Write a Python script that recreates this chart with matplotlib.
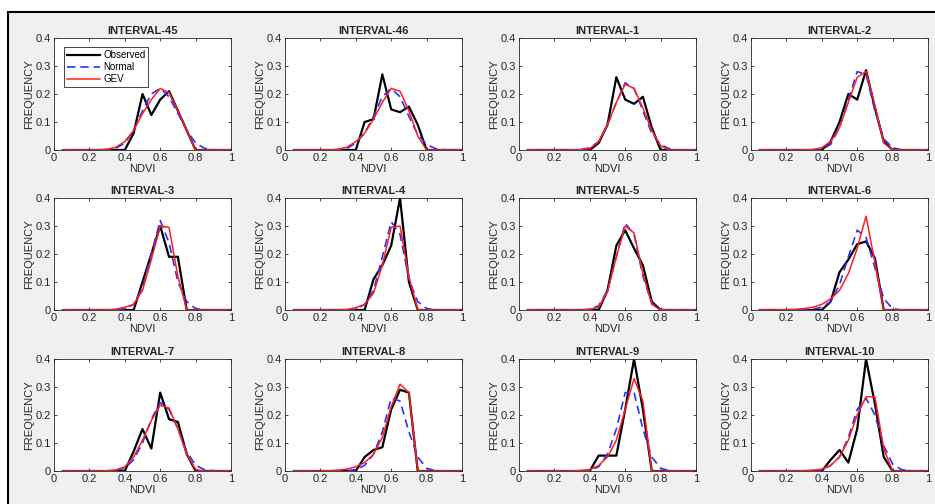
import matplotlib
matplotlib.use('Agg')
import matplotlib.pyplot as plt
from matplotlib.patches import Rectangle

plt.rcParams['font.family'] = ['Liberation Sans', 'DejaVu Sans']

# NDVI bin centres
ndvi = [0.05, 0.10, 0.15, 0.20, 0.25, 0.30, 0.35, 0.40, 0.45, 0.50,
        0.55, 0.60, 0.65, 0.70, 0.75, 0.80, 0.85, 0.90, 0.95, 1.00]

titles = ['INTERVAL-45', 'INTERVAL-46', 'INTERVAL-1', 'INTERVAL-2',
          'INTERVAL-3', 'INTERVAL-4', 'INTERVAL-5', 'INTERVAL-6',
          'INTERVAL-7', 'INTERVAL-8', 'INTERVAL-9', 'INTERVAL-10']

# observed frequencies (black)
observed = [
    [0, 0, 0, 0, 0, 0, 0, 0, 0.06, 0.20, 0.125, 0.18, 0.21, 0.14, 0.07, 0, 0, 0, 0, 0],
    [0, 0, 0, 0, 0, 0, 0, 0, 0.10, 0.11, 0.27, 0.145, 0.135, 0.155, 0.09, 0, 0, 0, 0, 0],
    [0, 0, 0, 0, 0, 0, 0, 0, 0.025, 0.09, 0.26, 0.18, 0.165, 0.19, 0.08, 0, 0, 0, 0, 0],
    [0, 0, 0, 0, 0, 0, 0, 0, 0.03, 0.10, 0.20, 0.18, 0.285, 0.15, 0.03, 0, 0, 0, 0, 0],
    [0, 0, 0, 0, 0, 0, 0, 0, 0, 0.10, 0.20, 0.30, 0.19, 0.19, 0, 0, 0, 0, 0, 0],
    [0, 0, 0, 0, 0, 0, 0, 0, 0, 0.11, 0.16, 0.23, 0.40, 0.10, 0, 0, 0, 0, 0, 0],
    [0, 0, 0, 0, 0, 0, 0, 0, 0, 0.07, 0.23, 0.285, 0.22, 0.16, 0.03, 0, 0, 0, 0, 0],
    [0, 0, 0, 0, 0, 0, 0, 0, 0.03, 0.135, 0.18, 0.235, 0.245, 0.185, 0, 0, 0, 0, 0, 0],
    [0, 0, 0, 0, 0, 0, 0, 0, 0.07, 0.15, 0.08, 0.28, 0.185, 0.175, 0.06, 0, 0, 0, 0, 0],
    [0, 0, 0, 0, 0, 0, 0, 0, 0.05, 0.075, 0.085, 0.22, 0.29, 0.28, 0, 0, 0, 0, 0, 0],
    [0, 0, 0, 0, 0, 0, 0, 0, 0.055, 0.055, 0.055, 0.22, 0.40, 0.22, 0, 0, 0, 0, 0, 0],
    [0, 0, 0, 0, 0, 0, 0, 0, 0.04, 0.075, 0.03, 0.15, 0.40, 0.24, 0.05, 0, 0, 0, 0, 0],
]

# fitted normal (blue dashed)
normal = [
    [0, 0, 0, 0, 0, 0.001, 0.006, 0.025, 0.07, 0.14, 0.20, 0.22, 0.19, 0.13, 0.07, 0.025, 0.006, 0.001, 0, 0],
    [0, 0, 0, 0, 0, 0.001, 0.005, 0.025, 0.06, 0.12, 0.19, 0.22, 0.19, 0.12, 0.055, 0.02, 0.005, 0.001, 0, 0],
    [0, 0, 0, 0, 0, 0, 0.002, 0.008, 0.03, 0.09, 0.17, 0.24, 0.22, 0.14, 0.06, 0.02, 0.004, 0, 0, 0],
    [0, 0, 0, 0, 0, 0, 0, 0.002, 0.02, 0.08, 0.18, 0.28, 0.27, 0.14, 0.04, 0.008, 0.001, 0, 0, 0],
    [0, 0, 0, 0, 0, 0, 0.001, 0.005, 0.02, 0.08, 0.20, 0.32, 0.24, 0.10, 0.03, 0.005, 0, 0, 0, 0],
    [0, 0, 0, 0, 0, 0, 0, 0.003, 0.02, 0.07, 0.19, 0.315, 0.27, 0.11, 0.03, 0.005, 0, 0, 0, 0],
    [0, 0, 0, 0, 0, 0, 0, 0.003, 0.015, 0.07, 0.19, 0.31, 0.27, 0.12, 0.025, 0.002, 0, 0, 0, 0],
    [0, 0, 0, 0, 0, 0.001, 0.003, 0.01, 0.03, 0.09, 0.19, 0.285, 0.26, 0.15, 0.04, 0.005, 0, 0, 0, 0],
    [0, 0, 0, 0, 0, 0, 0.003, 0.01, 0.04, 0.10, 0.185, 0.245, 0.22, 0.15, 0.07, 0.02, 0.005, 0.001, 0, 0],
    [0, 0, 0, 0, 0, 0, 0.001, 0.005, 0.02, 0.06, 0.14, 0.26, 0.25, 0.14, 0.05, 0.01, 0.001, 0, 0, 0],
    [0, 0, 0, 0, 0, 0, 0, 0.003, 0.015, 0.06, 0.15, 0.28, 0.28, 0.15, 0.05, 0.01, 0.001, 0, 0, 0],
    [0, 0, 0, 0, 0, 0, 0.001, 0.003, 0.02, 0.05, 0.12, 0.22, 0.26, 0.20, 0.09, 0.025, 0.005, 0.001, 0, 0],
]

# fitted GEV (red)
gev = [
    [0, 0, 0, 0, 0, 0.003, 0.01, 0.03, 0.07, 0.13, 0.18, 0.22, 0.205, 0.14, 0.07, 0, 0, 0, 0, 0],
    [0, 0, 0, 0, 0, 0.003, 0.01, 0.03, 0.06, 0.11, 0.17, 0.22, 0.21, 0.14, 0.05, 0, 0, 0, 0, 0],
    [0, 0, 0, 0, 0, 0, 0.001, 0.005, 0.03, 0.09, 0.17, 0.235, 0.22, 0.15, 0.07, 0.015, 0, 0, 0, 0],
    [0, 0, 0, 0, 0, 0, 0.002, 0.008, 0.03, 0.08, 0.17, 0.26, 0.28, 0.16, 0.025, 0, 0, 0, 0, 0],
    [0, 0, 0, 0, 0, 0, 0.003, 0.01, 0.02, 0.07, 0.18, 0.30, 0.295, 0.12, 0, 0, 0, 0, 0, 0],
    [0, 0, 0, 0, 0, 0, 0.002, 0.008, 0.02, 0.06, 0.16, 0.295, 0.30, 0.12, 0, 0, 0, 0, 0, 0],
    [0, 0, 0, 0, 0, 0, 0, 0.002, 0.01, 0.065, 0.19, 0.30, 0.275, 0.13, 0.02, 0, 0, 0, 0, 0],
    [0, 0, 0, 0.001, 0.002, 0.005, 0.01, 0.02, 0.04, 0.07, 0.13, 0.22, 0.335, 0.17, 0, 0, 0, 0, 0, 0],
    [0, 0, 0, 0, 0, 0.001, 0.004, 0.015, 0.05, 0.11, 0.18, 0.235, 0.225, 0.15, 0.06, 0.005, 0, 0, 0, 0],
    [0, 0, 0, 0, 0.001, 0.003, 0.007, 0.015, 0.03, 0.06, 0.12, 0.23, 0.31, 0.28, 0, 0, 0, 0, 0, 0],
    [0, 0, 0, 0, 0, 0, 0.002, 0.005, 0.02, 0.05, 0.11, 0.22, 0.33, 0.25, 0, 0, 0, 0, 0, 0],
    [0, 0, 0, 0, 0, 0.001, 0.003, 0.007, 0.02, 0.05, 0.11, 0.20, 0.265, 0.265, 0.08, 0, 0, 0, 0, 0],
]

W, H = 935, 504
fig = plt.figure(figsize=(W / 100, H / 100), dpi=100, facecolor='white')

# grey window background with black edge (screenshot look)
fig.patches.append(Rectangle((8 / W, -0.01), 1.02, 1 - 12 / H + 0.01,
                             transform=fig.transFigure, facecolor='#f0f0f0',
                             edgecolor='black', linewidth=1.5, zorder=-10))

col_left = [54, 285, 519, 751]
row_top = [38, 198, 359]
aw, ah = 177, 112
txt = '#262626'
fs = 8

for i in range(12):
    r, c = divmod(i, 4)
    ax = fig.add_axes([col_left[c] / W, 1 - (row_top[r] + ah) / H, aw / W, ah / H])
    ax.plot(ndvi, observed[i], color='black', lw=1.6, label='Observed')
    ax.plot(ndvi, normal[i], color='#2f2fff', lw=1.2, ls=(0, (5, 3)), label='Normal')
    ax.plot(ndvi, gev[i], color='#ff1e1e', lw=1.1, label='GEV')
    ax.set_xlim(0, 1)
    ax.set_ylim(0, 0.4)
    ax.set_xticks([0, 0.2, 0.4, 0.6, 0.8, 1])
    ax.set_xticklabels(['0', '0.2', '0.4', '0.6', '0.8', '1'])
    ax.set_yticks([0, 0.1, 0.2, 0.3, 0.4])
    ax.set_yticklabels(['0', '0.1', '0.2', '0.3', '0.4'])
    ax.tick_params(direction='in', length=2.5, width=0.6, labelsize=fs,
                   colors=txt, top=True, right=True, pad=2)
    for s in ax.spines.values():
        s.set_color(txt)
        s.set_linewidth(0.6)
    ax.set_title(titles[i], fontsize=fs, fontweight='bold', color=txt, pad=3)
    ax.set_xlabel('NDVI', fontsize=fs, color=txt, labelpad=1)
    ax.set_ylabel('FREQUENCY', fontsize=fs, color=txt, labelpad=1)
    if i == 0:
        leg = ax.legend(loc='upper left', fontsize=7, handlelength=3.4,
                        borderpad=0.3, labelspacing=0.2, handletextpad=0.3,
                        fancybox=False, framealpha=1, edgecolor=txt,
                        bbox_to_anchor=(0.03, 0.96))
        leg.get_frame().set_linewidth(0.6)

fig.savefig('out.png', dpi=100, facecolor=fig.get_facecolor())
